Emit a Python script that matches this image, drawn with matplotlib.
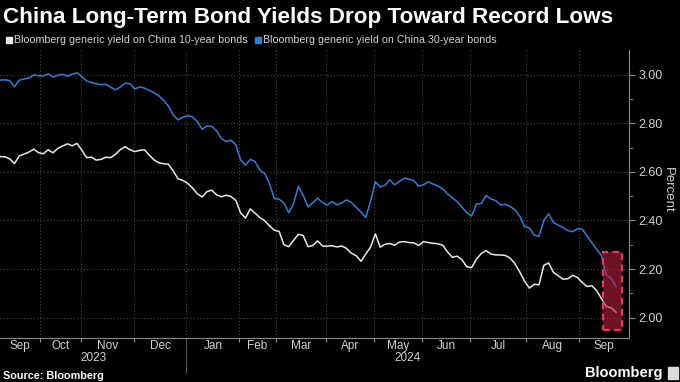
import matplotlib
matplotlib.use('Agg')
import matplotlib.pyplot as plt
import matplotlib.transforms as mtrans
from matplotlib.patches import Rectangle
import numpy as npy

# generic yields (percent), one reading every 2 trading days, Sep 2023 -> Sep 2024
ten_year = [2.663, 2.663, 2.654, 2.635, 2.666, 2.674, 2.682, 2.694, 2.680, 2.675,
            2.692, 2.679, 2.697, 2.707, 2.716, 2.708, 2.718, 2.690, 2.659, 2.661,
            2.649, 2.652, 2.661, 2.659, 2.673, 2.692, 2.704, 2.692, 2.684, 2.689,
            2.692, 2.670, 2.650, 2.638, 2.634, 2.632, 2.604, 2.572, 2.565, 2.553,
            2.534, 2.510, 2.497, 2.519, 2.525, 2.506, 2.498, 2.504, 2.499, 2.483,
            2.431, 2.410, 2.448, 2.430, 2.412, 2.399, 2.378, 2.360, 2.355, 2.300,
            2.292, 2.318, 2.343, 2.338, 2.292, 2.297, 2.316, 2.295, 2.294, 2.296,
            2.291, 2.295, 2.285, 2.265, 2.255, 2.232, 2.262, 2.290, 2.345, 2.290,
            2.302, 2.305, 2.298, 2.311, 2.313, 2.309, 2.308, 2.297, 2.313, 2.309,
            2.306, 2.304, 2.298, 2.270, 2.248, 2.253, 2.238, 2.209, 2.206, 2.240,
            2.264, 2.276, 2.262, 2.258, 2.258, 2.256, 2.245, 2.222, 2.188, 2.150,
            2.121, 2.137, 2.135, 2.215, 2.225, 2.186, 2.172, 2.158, 2.160, 2.174,
            2.165, 2.144, 2.128, 2.131, 2.110, 2.077, 2.045, 2.040, 2.022]

thirty_year = [2.979, 2.980, 2.977, 2.952, 2.979, 2.983, 2.988, 3.000, 2.997, 2.996,
               3.005, 2.992, 2.999, 3.003, 2.995, 3.003, 3.009, 2.993, 2.975, 2.969,
               2.964, 2.960, 2.962, 2.949, 2.939, 2.950, 2.966, 2.964, 2.942, 2.951,
               2.946, 2.937, 2.927, 2.914, 2.895, 2.872, 2.835, 2.815, 2.826, 2.832,
               2.827, 2.808, 2.776, 2.790, 2.788, 2.770, 2.738, 2.725, 2.731, 2.712,
               2.650, 2.628, 2.652, 2.643, 2.608, 2.594, 2.552, 2.490, 2.488, 2.472,
               2.432, 2.470, 2.540, 2.504, 2.456, 2.473, 2.492, 2.474, 2.464, 2.478,
               2.465, 2.472, 2.485, 2.475, 2.455, 2.435, 2.412, 2.480, 2.560, 2.538,
               2.545, 2.568, 2.547, 2.561, 2.574, 2.570, 2.564, 2.541, 2.548, 2.560,
               2.550, 2.542, 2.530, 2.510, 2.494, 2.478, 2.455, 2.432, 2.419, 2.468,
               2.470, 2.503, 2.489, 2.482, 2.464, 2.467, 2.458, 2.444, 2.418, 2.375,
               2.370, 2.340, 2.335, 2.400, 2.428, 2.392, 2.381, 2.371, 2.358, 2.354,
               2.366, 2.364, 2.335, 2.308, 2.281, 2.255, 2.175, 2.162, 2.127]
step = 2

month_names = ['Sep', 'Oct', 'Nov', 'Dec', 'Jan', 'Feb', 'Mar', 'Apr', 'May',
               'Jun', 'Jul', 'Aug', 'Sep']
# trading-day index of the first session of each month
month_starts = [0, 17, 34, 56, 78, 100, 115, 136, 156, 176, 196, 219, 241]
years = ['2023', '2024']
year_months = [0, 4]
last_day = 261.4
yticks = [2.0, 2.2, 2.4, 2.6, 2.8, 3.0]
box_days = [250.6, 258.5]
box_yield = [1.948, 2.27]

grey = '#8a8a8a'
txt = '#d2d2d2'
blue = '#2f7ed8'
white = '#e8e8e8'
plt.rcParams['font.family'] = ['Liberation Sans', 'DejaVu Sans']

fig = plt.figure(figsize=(6.8, 3.82), dpi=100, facecolor='black')
ax = fig.add_axes([0.0, 44/382, 629/680, 288/382], facecolor='black')

days = npy.arange(len(ten_year)) * step
ax.plot(days, thirty_year, color=blue, lw=1.1, zorder=3)
ax.plot(days, ten_year, color=white, lw=1.1, zorder=3)

# highlight of the latest readings
ax.add_patch(Rectangle((box_days[0], box_yield[0]), box_days[1]-box_days[0],
                       box_yield[1]-box_yield[0], facecolor='#b81e3c', alpha=0.6,
                       edgecolor='none', zorder=4))
ax.add_patch(Rectangle((box_days[0], box_yield[0]), box_days[1]-box_days[0],
                       box_yield[1]-box_yield[0], fill=False, edgecolor='#ea3560',
                       lw=1.6, linestyle=(0, (3, 2)), zorder=5))

ax.set_xlim(0, last_day)
ax.set_ylim(1.9155, 3.103)

bounds = [m - 0.5 for m in month_starts[1:]]
ax.set_xticks(bounds)
ax.set_xticklabels([])
ax.tick_params(axis='x', length=3, color=grey, direction='out')
ax.yaxis.tick_right()
ax.set_yticks(yticks)
ax.set_yticklabels(['%.2f' % v for v in yticks])
ax.set_yticks([v + 0.1 for v in yticks[:-1]], minor=True)
ax.tick_params(axis='y', which='major', length=4, color=grey, labelcolor=txt,
               labelsize=9, pad=3)
ax.tick_params(axis='y', which='minor', length=3, color=grey)
ax.grid(True, which='major', color='#4a4a4a', linestyle=(0, (1, 2)), lw=0.8)
for s in ['top', 'left']:
    ax.spines[s].set_visible(False)
for s in ['bottom', 'right']:
    ax.spines[s].set_color(grey)
    ax.spines[s].set_linewidth(0.8)

trans = mtrans.blended_transform_factory(ax.transData, ax.transAxes)
edges = [0] + bounds + [last_day]
for i, name in enumerate(month_names):
    ax.text((edges[i] + edges[i+1]) / 2, -0.028, name, transform=trans,
            ha='center', va='center', color=txt, fontsize=8.5)
for i, yr in enumerate(years):
    a = edges[year_months[i]]
    b = edges[year_months[i+1]] if i + 1 < len(years) else last_day
    ax.text((a + b) / 2, -0.07, yr, transform=trans, ha='center', va='center',
            color=txt, fontsize=8.5)
ax.axvline(edges[year_months[1]], ymin=-0.12, ymax=0, color='#555555', lw=0.8,
           clip_on=False)

fig.text(0.982, 0.503, 'Percent', rotation=270, ha='center', va='center',
         color=txt, fontsize=9.5)

fig.text(0.004, 1 - 18/382, 'China Long-Term Bond Yields Drop Toward Record Lows',
         color='white', fontsize=16.2, fontweight='bold', va='center')

fig.patches.append(Rectangle((6/680, 1 - 43/382), 6/680, 6/382, color=white,
                             transform=fig.transFigure, figure=fig))
fig.text(14/680, 1 - 40/382, 'Bloomberg generic yield on China 10-year bonds',
         color=txt, fontsize=7.7, va='center')
fig.patches.append(Rectangle((255/680, 1 - 43/382), 6/680, 6/382, color=blue,
                             transform=fig.transFigure, figure=fig))
fig.text(263/680, 1 - 40/382, 'Bloomberg generic yield on China 30-year bonds',
         color=txt, fontsize=7.7, va='center')

fig.text(3/680, 1 - 376/382, 'Source: Bloomberg', color='white', fontsize=7.8,
         fontweight='bold', va='center')
fig.text(662/680, 1 - 373/382, 'Bloomberg', color='white', fontsize=10.5,
         fontweight='bold', va='center', ha='right')
fig.patches.append(Rectangle((668/680, 1 - 379/382), 10/680, 12/382, color='#dddddd',
                             transform=fig.transFigure, figure=fig))

fig.savefig('out.png', dpi=100, facecolor='black')
plt.close()
